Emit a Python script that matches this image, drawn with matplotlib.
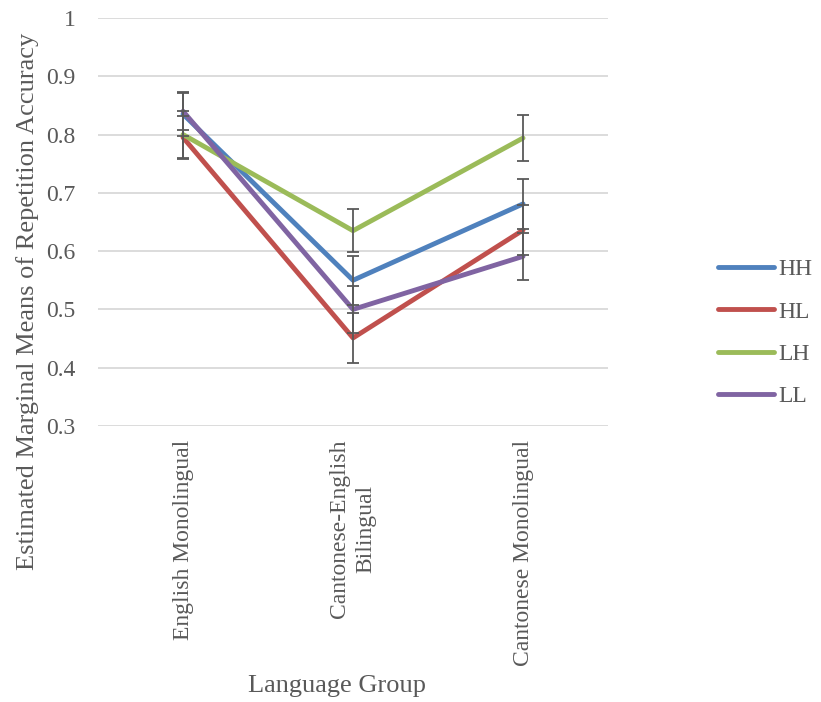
import matplotlib
matplotlib.use("Agg")
import matplotlib.pyplot as plt

# Estimated marginal means by language group, with error bar half-widths
groups = ["English Monolingual", "Cantonese-English\nBilingual", "Cantonese Monolingual"]
series = ["HH", "HL", "LH", "LL"]
hh = [0.835, 0.550, 0.681]
hl = [0.795, 0.451, 0.636]
lh = [0.800, 0.635, 0.794]
ll = [0.840, 0.500, 0.591]
hh_err = [0.037, 0.042, 0.043]
hl_err = [0.037, 0.043, 0.043]
lh_err = [0.040, 0.037, 0.039]
ll_err = [0.033, 0.040, 0.040]
colors = ["#4F81BD", "#C0504D", "#9BBB59", "#8064A2"]

plt.rcParams["font.family"] = ["Liberation Serif", "DejaVu Serif"]
text_color = "#595959"

fig = plt.figure(figsize=(8.21, 7.02), dpi=100)
ax = fig.add_axes([0.1194, 0.3932, 0.6212, 0.5812])

x = list(range(len(groups)))
for name, vals, errs, c in zip(series, [hh, hl, lh, ll],
                               [hh_err, hl_err, lh_err, ll_err], colors):
    ax.plot(x, vals, color=c, lw=3.5, label=name, zorder=3,
            solid_capstyle="round", solid_joinstyle="round")
    ax.errorbar(x, vals, yerr=errs, fmt="none", ecolor=text_color,
                elinewidth=1.3, capsize=4.5, capthick=1.3, zorder=4)

ax.set_xlim(-0.5, 2.5)
ax.set_ylim(0.3, 1.0)
ax.set_yticks([0.3, 0.4, 0.5, 0.6, 0.7, 0.8, 0.9, 1.0])
ax.set_yticklabels(["0.3", "0.4", "0.5", "0.6", "0.7", "0.8", "0.9", "1"])
ax.set_xticks(x)
ax.set_xticklabels(groups, rotation=90, va="top", ha="center",
                   multialignment="center", linespacing=1.35)
ax.tick_params(axis="both", length=0, labelsize=17, colors=text_color, pad=10)
ax.tick_params(axis="y", pad=16)
ax.grid(axis="y", color="#D9D9D9", lw=1.3)
ax.set_axisbelow(True)
for s in ax.spines.values():
    s.set_visible(False)

ax.set_ylabel("Estimated Marginal Means of Repetition Accuracy", fontsize=19,
              color=text_color, va="center")
ax.yaxis.set_label_coords(0.034, 0.571, transform=fig.transFigure)
ax.set_xlabel("Language Group", fontsize=19, color=text_color, va="center")
ax.xaxis.set_label_coords(0.41, 0.023, transform=fig.transFigure)

fig.legend(loc="center left", bbox_to_anchor=(0.8746, 0.5255), frameon=False,
           fontsize=17, handlelength=2.35, handletextpad=0.2,
           labelspacing=0.88, borderpad=0, borderaxespad=0,
           labelcolor=text_color)

fig.savefig("out.png", dpi=100)
